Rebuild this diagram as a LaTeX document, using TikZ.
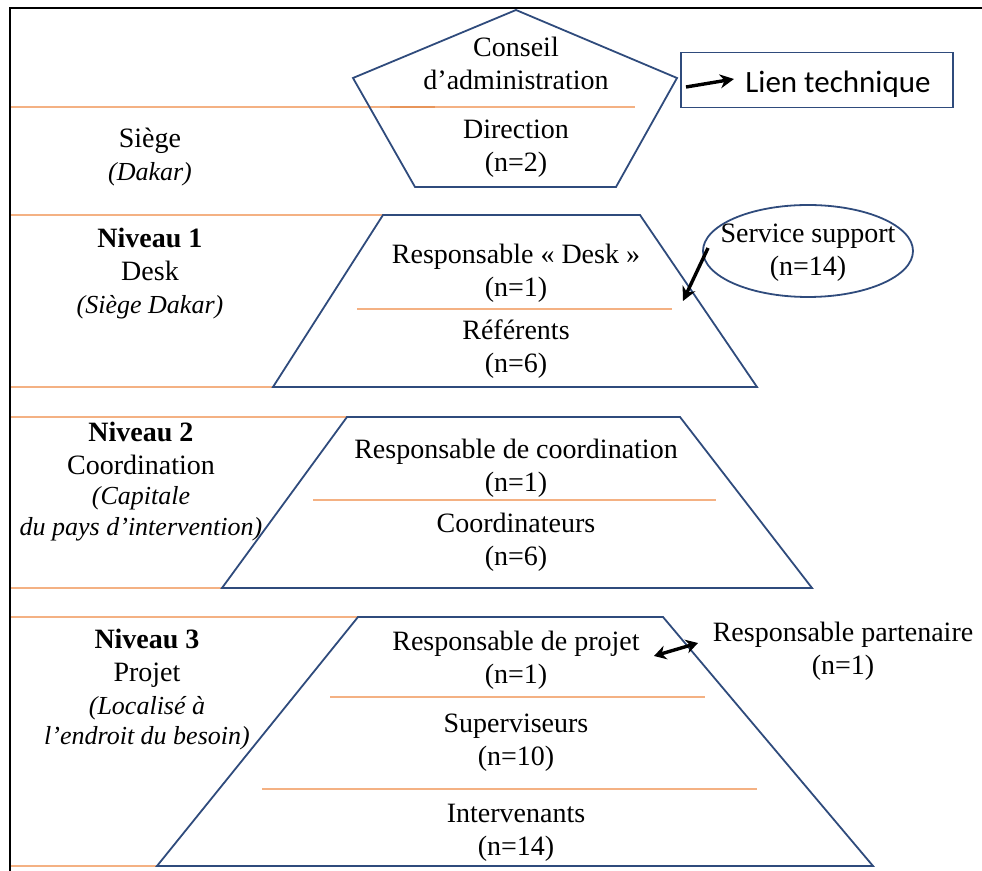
\documentclass[tikz,border=0pt]{standalone}
\usepackage{fontspec}
\setmainfont{Liberation Serif}
\newfontfamily\legendfont{Carlito}
\usetikzlibrary{arrows.meta}
\definecolor{edge}{HTML}{2F4B7C}
\definecolor{sep}{HTML}{F4B183}
\definecolor{sepdark}{HTML}{E8955A}
\newcommand{\note}[1]{{\fontsize{13}{15}\selectfont\itshape #1}}
\tikzset{
  txt/.style={inner sep=0pt, align=center, font=\fontsize{14}{16.5}\selectfont},
  shapeline/.style={draw=edge, line width=0.9pt, line join=miter},
  sepline/.style={draw=sep, line width=0.8pt},
  link/.style={draw=black, line width=1.7pt, -{Stealth[length=7pt,width=7pt]}},
  twolink/.style={draw=black, line width=1.7pt, {Stealth[length=6pt,width=7pt]}-{Stealth[length=6pt,width=7pt]}},
}
\begin{document}
\begin{tikzpicture}[x=0.5pt,y=-0.5pt]
\useasboundingbox (0,0) rectangle (982,871);

% outer frame (top and left)
\draw[black, line width=1.3pt] (10,871) -- (10,8) -- (982,8);

% horizontal band separators
\draw[sepline] (11,107) -- (635,107);
\draw[draw=sepdark, line width=0.8pt] (390,107) -- (435,107);
\draw[sepline] (11,215) -- (383,215);
\draw[sepline] (11,387) -- (273,387);
\draw[sepline] (11,417) -- (347,417);
\draw[sepline] (11,588) -- (222,588);
\draw[sepline] (11,617) -- (358,617);
\draw[sepline] (11,866) -- (157,866);

% inner separators
\draw[sepline] (357,309) -- (672,309);
\draw[sepline] (313,500) -- (716,500);
\draw[sepline] (330,697) -- (705,697);
\draw[sepline] (262,789) -- (757,789);

% pentagon: board and direction
\draw[shapeline] (516,10) -- (677,78) -- (616,187) -- (415,187) -- (353,78) -- cycle;

% level trapezoids
\draw[shapeline] (383,215) -- (640,215) -- (757,387) -- (273,387) -- cycle;
\draw[shapeline] (347,417) -- (680,417) -- (812,588) -- (222,588) -- cycle;
\draw[shapeline] (358,617) -- (663,617) -- (873,866) -- (157,866) -- cycle;

% texts in the pyramid
\node[txt] (conseil) at (516,63) {Conseil\\d’administration};
\node[txt] (direction) at (516,149) {Direction\\(n=2)};
\node[txt] (respdesk) at (516,273) {Responsable « Desk »\\(n=1)};
\node[txt] (referents) at (516,349) {Référents\\(n=6)};
\node[txt] (respcoord) at (516,468) {Responsable de coordination\\(n=1)};
\node[txt] (coords) at (516,542) {Coordinateurs\\(n=6)};
\node[txt] (respproj) at (516,660) {Responsable de projet\\(n=1)};
\node[txt] (superv) at (516,743) {Superviseurs\\(n=10)};
\node[txt] (interv) at (516,833) {Intervenants\\(n=14)};

% level labels on the left
\node[txt] (siege) at (150,157) {Siège\\\note{(Dakar)}};
\node[txt] (niv1) at (150,274) {\textbf{Niveau 1}\\Desk\\\note{(Siège Dakar)}};
\node[txt] (niv2) at (141,482) {\textbf{Niveau 2}\\Coordination\\[-1.5pt]\note{(Capitale}\\[-1pt]\note{du pays d’intervention)}};
\node[txt] (niv3) at (147,690) {\textbf{Niveau 3}\\Projet\\\note{(Localisé à}\\[-1.5pt]\note{l’endroit du besoin)}};

% side entities
\draw[shapeline] (808,251) ellipse [x radius=105, y radius=46];
\node[txt] (support) at (808,253) {Service support\\(n=14)};
\node[txt] (partner) at (843,651) {Responsable partenaire\\(n=1)};

% legend
\node[draw=edge, line width=0.9pt, minimum width=136pt, minimum height=27.5pt, inner sep=0pt] (legend) at (817,80) {};
\coordinate (legA) at (686,87);
\coordinate (legB) at (734,79);
\draw[link] (legA) -- (legB);
\node[font=\legendfont\fontsize{15.5}{18}\selectfont, anchor=west, inner sep=0pt] (legtext) at (745,84) {Lien technique};

% technical links
\coordinate (supportrim) at (708,248);
\coordinate (deskside) at (683,301);
\draw[link] (supportrim) -- (deskside);
\coordinate (projside) at (654,656);
\coordinate (partside) at (698,643);
\draw[twolink] (projside) -- (partside);
\end{tikzpicture}
\end{document}
